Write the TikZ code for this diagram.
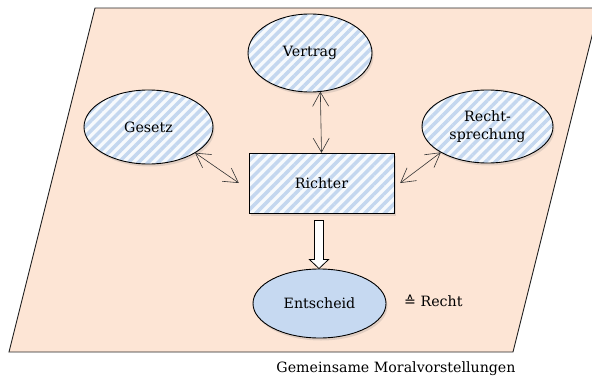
\documentclass[tikz,border=0pt]{standalone}
\usepackage{fontspec}
\setmainfont{DejaVu Serif}
\newfontfamily\symbolfont{DejaVu Sans}
\usetikzlibrary{patterns.meta,shadows,arrows.meta,shapes.geometric,calc}

\definecolor{plane}{HTML}{FDE5D5}
\definecolor{stripe}{HTML}{C4D7EF}
\definecolor{stripebg}{HTML}{F7FAFD}
\definecolor{decision}{HTML}{C6D9F1}

\begin{document}
\begin{tikzpicture}[x=1pt,y=-1pt,
  font=\fontsize{14.2}{18}\selectfont,
  shadowed/.style={drop shadow={opacity=0.22,shadow xshift=1.5pt,shadow yshift=-2.5pt}},
  hatched/.style={fill=stripebg, shadowed,
    postaction={pattern={Lines[angle=45,distance=7pt,line width=3.5pt]}, pattern color=stripe},
    postaction={draw=black, line width=0.9pt}},
  oval/.style={ellipse, inner sep=0pt, align=center},
  biarrow/.style={draw=black!80, line width=0.6pt,
    {Straight Barb[length=14pt,width=16pt]}-{Straight Barb[length=14pt,width=16pt]}},
  hollowarrow/.style={draw=black, line width=0.8pt, fill=white}
]
\useasboundingbox (0,0) rectangle (592,380);
\clip (0,0) rectangle (592,380);

% the common plane of shared moral ideas
\draw[fill=plane, draw=black!85, line width=0.9pt]
  (95,8) -- (599,8) -- (513,352) -- (9,352) -- cycle;

% sources of law around the judge
\node[oval, hatched, minimum width=124pt, minimum height=78pt] (vertrag) at (310,53) {Vertrag};
\node[oval, hatched, minimum width=129pt, minimum height=74pt] (gesetz) at (148.5,127) {Gesetz};
\node[oval, hatched, minimum width=131pt, minimum height=73pt] (rechtspr) at (487.5,126.5) {Recht-\\sprechung};
\node[rectangle, hatched, minimum width=145pt, minimum height=60pt, inner sep=0pt] (richter) at (321.5,183) {Richter};

% the decision
\node[oval, draw=black, line width=0.9pt, fill=decision, shadowed,
      minimum width=133pt, minimum height=69pt] (entscheid) at (319.5,303.5) {Entscheid};
\node[anchor=west, inner sep=0pt] (gleich) at (404,301) {{\symbolfont ≙} Recht};

% interactions
\draw[biarrow] (vertrag.-75) -- (richter.north);
\draw[biarrow] (gesetz.-29) -- ([xshift=-10pt]richter.west);
\draw[biarrow] (rechtspr.-151) -- ([xshift=6pt]richter.east);

% hollow block arrow from judge to decision
\coordinate (tip) at ([xshift=-0.5pt]entscheid.north);
\draw[hollowarrow]
  ($(tip)+(-4.5,-48)$) -- ($(tip)+(4.5,-48)$) -- ($(tip)+(4.5,-9)$) --
  ($(tip)+(9.5,-9)$) -- (tip) -- ($(tip)+(-9.5,-9)$) --
  ($(tip)+(-4.5,-9)$) -- cycle;

% caption of the plane
\node (moral) at (396,369) {Gemeinsame Moralvorstellungen};
\end{tikzpicture}
\end{document}
